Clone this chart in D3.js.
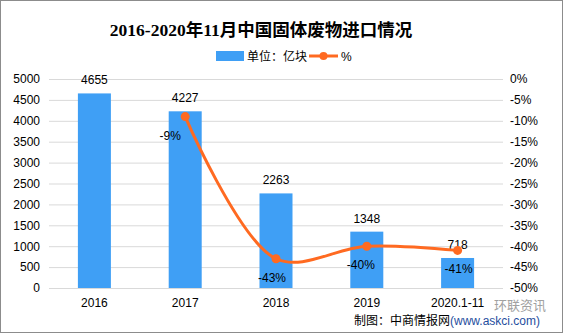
<!DOCTYPE html>
<html><head><meta charset="utf-8">
<script src="https://cdn.jsdelivr.net/npm/d3@7/dist/d3.min.js"></script>
<style>body{margin:0;background:#fff}svg{display:block}</style>
</head><body>
<svg id="c" width="563" height="333"></svg>
<script>
const categories = ["2016","2017","2018","2019","2020.1-11"];
const values = [4655,4227,2263,1348,718];
const pct = [null,-9,-43,-40,-41];
const leftTicks = [0,500,1000,1500,2000,2500,3000,3500,4000,4500,5000];
const rightTicks = [0,-5,-10,-15,-20,-25,-30,-35,-40,-45,-50];

const svg = d3.select("#c");
const W=563,H=333;
const font = "'Liberation Sans','Noto Sans CJK SC',sans-serif";
const L=49,R=503,T=79,B=288;

svg.append("rect").attr("x",0.5).attr("y",0.5).attr("width",W-1).attr("height",H-1)
  .attr("fill","#fff").attr("stroke","#8c8c8c");

const x = d3.scaleBand().domain(categories).range([L,R]);
const y = d3.scaleLinear().domain([0,5000]).range([B,T]);
const y2 = d3.scaleLinear().domain([-50,0]).range([B,T]);

// gridlines
svg.append("g").selectAll("line").data(leftTicks).join("line")
  .attr("x1",L).attr("x2",R).attr("y1",d=>y(d)+0.5).attr("y2",d=>y(d)+0.5)
  .attr("stroke","#d9d9d9").attr("stroke-width",1);

// left axis
const ga = svg.append("g").attr("transform",`translate(${L},0)`)
  .call(d3.axisLeft(y).tickValues(leftTicks).tickSize(0).tickPadding(9).tickFormat(d3.format("d")));
ga.select(".domain").remove();
ga.selectAll("text").attr("font-family",font).attr("font-size",12).attr("fill","#000");

// right axis
const gr = svg.append("g").attr("transform",`translate(${R},0)`)
  .call(d3.axisRight(y2).tickValues(rightTicks).tickSize(0).tickPadding(7).tickFormat(d=>d+"%"));
gr.select(".domain").remove();
gr.selectAll("text").attr("font-family",font).attr("font-size",12).attr("fill","#000");

// bottom axis
const gb = svg.append("g").attr("transform",`translate(0,${B})`)
  .call(d3.axisBottom(x).tickSize(0).tickPadding(10));
gb.select(".domain").remove();
gb.selectAll("text").attr("font-family",font).attr("font-size",12).attr("fill","#000");

// bars
const bw = 33;
svg.append("g").selectAll("rect").data(values).join("rect")
  .attr("x",(d,i)=>x(categories[i])+x.bandwidth()/2-bw/2)
  .attr("width",bw)
  .attr("y",d=>y(d)).attr("height",d=>B-y(d))
  .attr("fill","#3f9ff5");

svg.append("g").selectAll("text").data(values).join("text")
  .attr("x",(d,i)=>x(categories[i])+x.bandwidth()/2)
  .attr("y",d=>y(d)-9)
  .attr("text-anchor","middle").attr("font-family",font).attr("font-size",12).attr("fill","#000")
  .text(d=>d);

// line
const pts = pct.map((p,i)=>({c:categories[i],p})).filter(d=>d.p!==null);
const cx = d=>x(d.c)+x.bandwidth()/2;
svg.append("path").datum(pts)
  .attr("d",d3.line().x(cx).y(d=>y2(d.p)).curve(d3.curveCatmullRom.alpha(0.5)))
  .attr("fill","none").attr("stroke","#ff6a21").attr("stroke-width",3);
svg.append("g").selectAll("circle").data(pts).join("circle")
  .attr("cx",cx).attr("cy",d=>y2(d.p)).attr("r",4.5).attr("fill","#ff6a21");
const dxs = {"2017":-15,"2018":-4,"2019":-6,"2020.1-11":1};
svg.append("g").selectAll("text").data(pts).join("text")
  .attr("x",d=>cx(d)+dxs[d.c])
  .attr("y",d=>y2(d.p)+23)
  .attr("text-anchor","middle").attr("font-family",font).attr("font-size",12).attr("fill","#000")
  .text(d=>d.p+"%");

// title
svg.append("text").attr("x",261).attr("y",36).attr("text-anchor","middle")
  .attr("font-family","'Liberation Serif','Noto Sans CJK SC',serif").attr("font-weight","bold")
  .attr("font-size",17.5).attr("fill","#000").text("2016-2020年11月中国固体废物进口情况");

// legend
const lg = svg.append("g");
lg.append("rect").attr("x",216).attr("y",51).attr("width",28).attr("height",10).attr("fill","#3f9ff5");
lg.append("text").attr("x",247).attr("y",60.5).attr("font-family",font).attr("font-size",12).attr("fill","#000").text("单位：亿块");
lg.append("line").attr("x1",309).attr("x2",338).attr("y1",56).attr("y2",56).attr("stroke","#ff6a21").attr("stroke-width",3);
lg.append("circle").attr("cx",323.5).attr("cy",56).attr("r",4).attr("fill","#ff6a21");
lg.append("text").attr("x",341).attr("y",60.5).attr("font-family",font).attr("font-size",12).attr("fill","#000").text("%");

// watermark brand
svg.append("text").attr("x",494).attr("y",310).attr("font-family","'Noto Sans CJK SC',sans-serif")
  .attr("font-size",13).attr("fill","#8a8a8a").attr("opacity",0.8).text("环联资讯");

// footer
const ft = svg.append("text").attr("x",354).attr("y",325).attr("font-family",font).attr("font-size",12);
ft.append("tspan").attr("fill","#000").text("制图：中商情报网");
ft.append("tspan").attr("fill","#1f4e9e").text("(www.askci.com)");
</script>
</body></html>
